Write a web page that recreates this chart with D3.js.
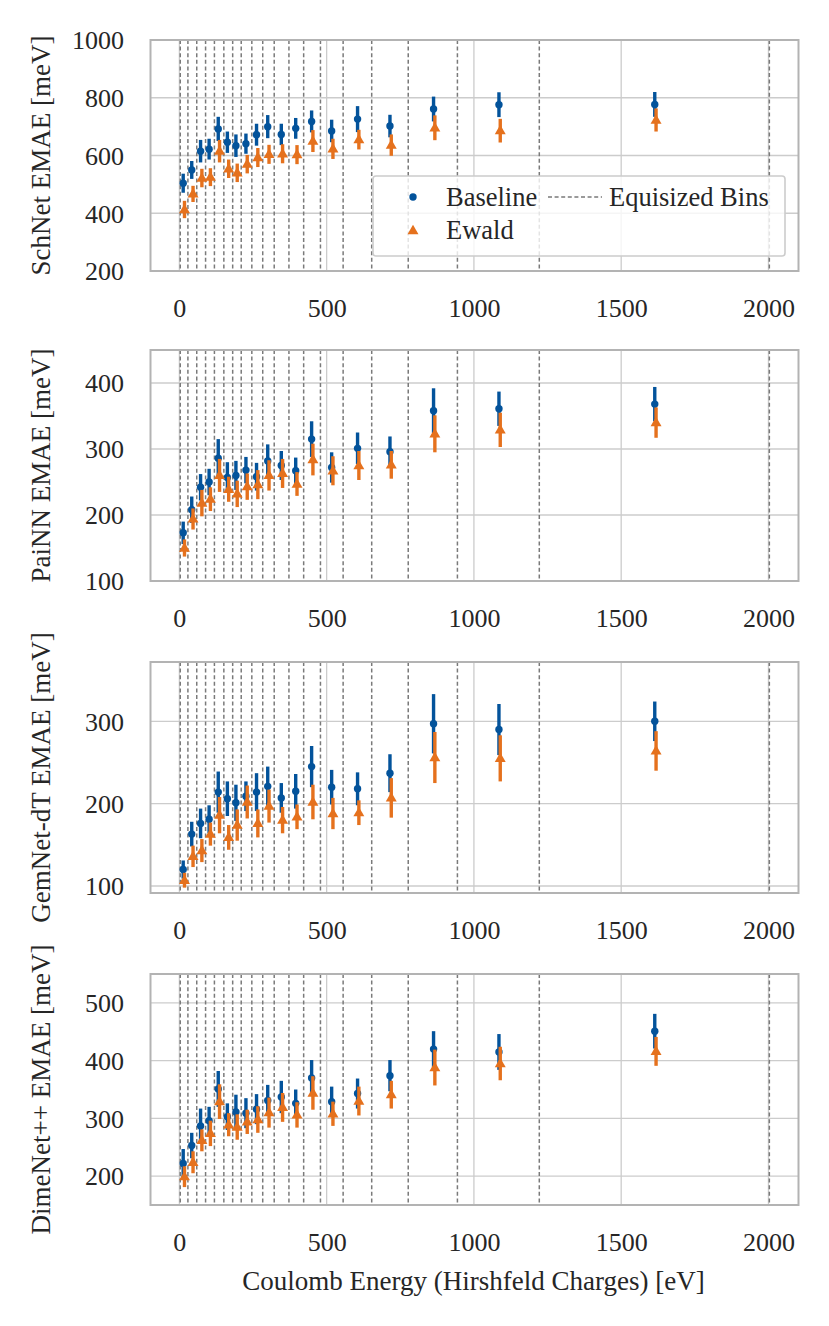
<!DOCTYPE html>
<html>
<head>
<meta charset="utf-8">
<script src="https://cdn.jsdelivr.net/npm/d3@7"></script>
<style>
  html, body { margin: 0; padding: 0; background: #fff; }
  svg { display: block; }
  text { font-family: "Liberation Serif", "Times New Roman", serif; fill: #262626; }
</style>
</head>
<body>
<svg id="chart" width="829" height="1326"></svg>
<script>
// ---------------- data ----------------
const binEdges = [3, 29, 59, 89, 119, 151, 181, 210, 246, 283, 322, 372, 422, 479, 556, 653, 777, 944, 1222, 2003];
const binCenters = [13, 42, 72, 101, 132, 163, 192, 226, 262, 300, 346, 395, 449, 517, 605, 715, 863, 1085, 1614];
const xTicks = [0, 500, 1000, 1500, 2000];

const modelNames = ["SchNet", "PaiNN", "GemNet-dT", "DimeNet++"];

const schnetBase      = [504, 550, 615, 622, 692, 646, 634, 641, 672, 700, 673, 694, 718, 685, 726, 702, 761, 776, 777];
const schnetBaseErr   = [33, 31, 39, 36, 42, 37, 39, 35, 38, 40, 37, 36, 38, 39, 45, 39, 43, 43, 43];
const schnetEwald     = [413, 467, 522, 525, 615, 554, 540, 570, 593, 604, 606, 603, 650, 623, 655, 636, 696, 686, 723];
const schnetEwaldErr  = [30, 28, 32, 31, 39, 32, 32, 32, 33, 33, 33, 33, 38, 35, 34, 37, 43, 41, 40];

const painnBase       = [173, 208, 242, 250, 286, 257, 260, 268, 258, 282, 275, 267, 315, 272, 301, 296, 358, 361, 368];
const painnBaseErr    = [17, 20, 20, 20, 29, 23, 22, 20, 21, 25, 22, 20, 27, 23, 24, 23, 34, 26, 26];
const painnEwald      = [150, 194, 218, 224, 260, 239, 232, 243, 246, 260, 263, 247, 284, 267, 275, 276, 323, 329, 340];
const painnEwaldErr   = [13, 16, 20, 18, 25, 19, 20, 20, 22, 23, 22, 18, 24, 22, 22, 21, 28, 26, 23];

const gemnetBase      = [120, 163, 176, 181, 214, 206, 201, 209, 214, 221, 207, 215, 245, 220, 218, 237, 297, 290, 300];
const gemnetBaseErr   = [11, 15, 18, 17, 25, 21, 22, 18, 23, 24, 18, 21, 25, 21, 20, 23, 36, 31, 24];
const gemnetEwald     = [107, 136, 143, 163, 186, 159, 174, 202, 176, 197, 180, 184, 202, 188, 189, 207, 256, 255, 264];
const gemnetEwaldErr  = [9, 13, 14, 14, 22, 15, 19, 20, 17, 20, 16, 15, 21, 19, 15, 24, 31, 28, 24];

const dimenetBase     = [222, 253, 287, 296, 351, 303, 311, 309, 316, 331, 337, 326, 370, 329, 343, 374, 420, 415, 451];
const dimenetBaseErr  = [25, 22, 30, 24, 31, 23, 30, 26, 26, 27, 28, 24, 31, 26, 26, 27, 31, 31, 30];
const dimenetEwald    = [199, 224, 262, 274, 329, 289, 285, 294, 298, 310, 319, 306, 344, 308, 330, 341, 388, 395, 416];
const dimenetEwaldErr = [18, 19, 19, 22, 30, 20, 22, 21, 23, 26, 25, 22, 29, 21, 25, 24, 31, 29, 25];

const yDomains = [[200, 1000], [100, 450], [91.5, 372], [150, 550]];
const yTicks = [[200, 400, 600, 800, 1000], [100, 200, 300, 400], [100, 200, 300], [200, 300, 400, 500]];

const seriesLabels = ["Baseline", "Ewald"];
const binLabel = "Equisized Bins";
const xLabel = "Coulomb Energy (Hirshfeld Charges) [eV]";

// ---------------- layout ----------------
const colors = { base: "#03539b", ewald: "#e5711d" };
const panelTops = [40, 350, 662, 974];
const panelH = 231;
const left = 150.5, right = 798.5;
const fs = 26, fsLabel = 27, fsLegend = 26.5;

const panels = [
  { name: modelNames[0], base: schnetBase, baseErr: schnetBaseErr, ewald: schnetEwald, ewaldErr: schnetEwaldErr },
  { name: modelNames[1], base: painnBase, baseErr: painnBaseErr, ewald: painnEwald, ewaldErr: painnEwaldErr },
  { name: modelNames[2], base: gemnetBase, baseErr: gemnetBaseErr, ewald: gemnetEwald, ewaldErr: gemnetEwaldErr },
  { name: modelNames[3], base: dimenetBase, baseErr: dimenetBaseErr, ewald: dimenetEwald, ewaldErr: dimenetEwaldErr }
];

const svg = d3.select("#chart");
const x = d3.scaleLinear().domain([-98, 2102]).range([left, right]);
const tri = d3.symbol().type(d3.symbolTriangle).size(52);
const dodge = 1.3;

panels.forEach((p, i) => {
  const top = panelTops[i], bottom = top + panelH;
  const y = d3.scaleLinear().domain(yDomains[i]).range([bottom, top]);
  const g = svg.append("g");

  const clipId = "clip" + i;
  svg.append("clipPath").attr("id", clipId)
    .append("rect").attr("x", left).attr("y", top).attr("width", right - left).attr("height", bottom - top);

  // grid
  g.append("g").selectAll("line").data(yTicks[i]).join("line")
    .attr("x1", left).attr("x2", right)
    .attr("y1", d => y(d)).attr("y2", d => y(d))
    .attr("stroke", "#cccccc").attr("stroke-width", 1.3);
  g.append("g").selectAll("line").data(xTicks).join("line")
    .attr("x1", d => x(d)).attr("x2", d => x(d))
    .attr("y1", top).attr("y2", bottom)
    .attr("stroke", "#cccccc").attr("stroke-width", 1.3);

  // bin edges
  g.append("g").attr("clip-path", `url(#${clipId})`).selectAll("line").data(binEdges).join("line")
    .attr("x1", d => x(d)).attr("x2", d => x(d))
    .attr("y1", top).attr("y2", bottom)
    .attr("stroke", "#7a7a7a").attr("stroke-width", 1.5).attr("stroke-dasharray", "4,2.6");

  // axes (tick labels via d3 axes, no tick lines)
  const yAxis = d3.axisLeft(y).tickValues(yTicks[i]).tickSize(0).tickPadding(0).tickFormat(d3.format("d"));
  const ya = g.append("g").attr("transform", `translate(124,0)`).call(yAxis);
  ya.select(".domain").remove();
  ya.selectAll("text").attr("font-size", fs).attr("font-family", "Liberation Serif").attr("fill", "#262626")
    .attr("dy", "0.34em");

  const xAxis = d3.axisBottom(x).tickValues(xTicks).tickSize(0).tickPadding(0).tickFormat(d3.format("d"));
  const xa = g.append("g").attr("transform", `translate(0,${bottom + 46})`).call(xAxis);
  xa.select(".domain").remove();
  xa.selectAll("text").attr("font-size", fs).attr("font-family", "Liberation Serif").attr("fill", "#262626")
    .attr("dy", "0");

  // y label
  g.append("text")
    .attr("transform", `translate(50,${(top + bottom) / 2}) rotate(-90)`)
    .attr("text-anchor", "middle")
    .attr("font-size", fsLabel)
    .text(p.name + " EMAE [meV]");

  // data
  const dg = g.append("g");
  const baseData = binCenters.map((c, j) => ({ c, v: p.base[j], e: p.baseErr[j] }));
  const ewData = binCenters.map((c, j) => ({ c, v: p.ewald[j], e: p.ewaldErr[j] }));

  dg.append("g").selectAll("line").data(baseData).join("line")
    .attr("x1", d => x(d.c)).attr("x2", d => x(d.c))
    .attr("y1", d => y(d.v - d.e)).attr("y2", d => y(d.v + d.e))
    .attr("stroke", colors.base).attr("stroke-width", 3.4);
  dg.append("g").selectAll("circle").data(baseData).join("circle")
    .attr("cx", d => x(d.c)).attr("cy", d => y(d.v)).attr("r", 3.7)
    .attr("fill", colors.base);

  dg.append("g").selectAll("line").data(ewData).join("line")
    .attr("x1", d => x(d.c) + dodge).attr("x2", d => x(d.c) + dodge)
    .attr("y1", d => y(d.v - d.e)).attr("y2", d => y(d.v + d.e))
    .attr("stroke", colors.ewald).attr("stroke-width", 3.4);
  dg.append("g").selectAll("path").data(ewData).join("path")
    .attr("d", tri)
    .attr("transform", d => `translate(${x(d.c) + dodge},${y(d.v) + 0.5})`)
    .attr("fill", colors.ewald);

  // frame
  g.append("rect").attr("x", left).attr("y", top).attr("width", right - left).attr("height", bottom - top)
    .attr("fill", "none").attr("stroke", "#b3b3b3").attr("stroke-width", 2);

  // legend on first panel
  if (i === 0) {
    const lg = g.append("g");
    lg.append("rect").attr("x", 373).attr("y", 176).attr("width", 412).attr("height", 80).attr("rx", 3)
      .attr("fill", "white").attr("fill-opacity", 0.8).attr("stroke", "#cccccc").attr("stroke-width", 1.6);
    lg.append("circle").attr("cx", 413).attr("cy", 197).attr("r", 3.7).attr("fill", colors.base);
    lg.append("text").attr("x", 446).attr("y", 206).attr("font-size", fsLegend).text(seriesLabels[0]);
    lg.append("path").attr("d", tri).attr("transform", "translate(413,231)").attr("fill", colors.ewald);
    lg.append("text").attr("x", 446).attr("y", 239).attr("font-size", fsLegend).text(seriesLabels[1]);
    lg.append("line").attr("x1", 548).attr("x2", 602).attr("y1", 197).attr("y2", 197)
      .attr("stroke", "#7a7a7a").attr("stroke-width", 1.5).attr("stroke-dasharray", "4,2.6");
    lg.append("text").attr("x", 609).attr("y", 206).attr("font-size", fsLegend).text(binLabel);
  }
});

svg.append("text").attr("x", (left + right) / 2 - 1).attr("y", 1290)
  .attr("text-anchor", "middle").attr("font-size", fsLabel).text(xLabel);
</script>
</body>
</html>
